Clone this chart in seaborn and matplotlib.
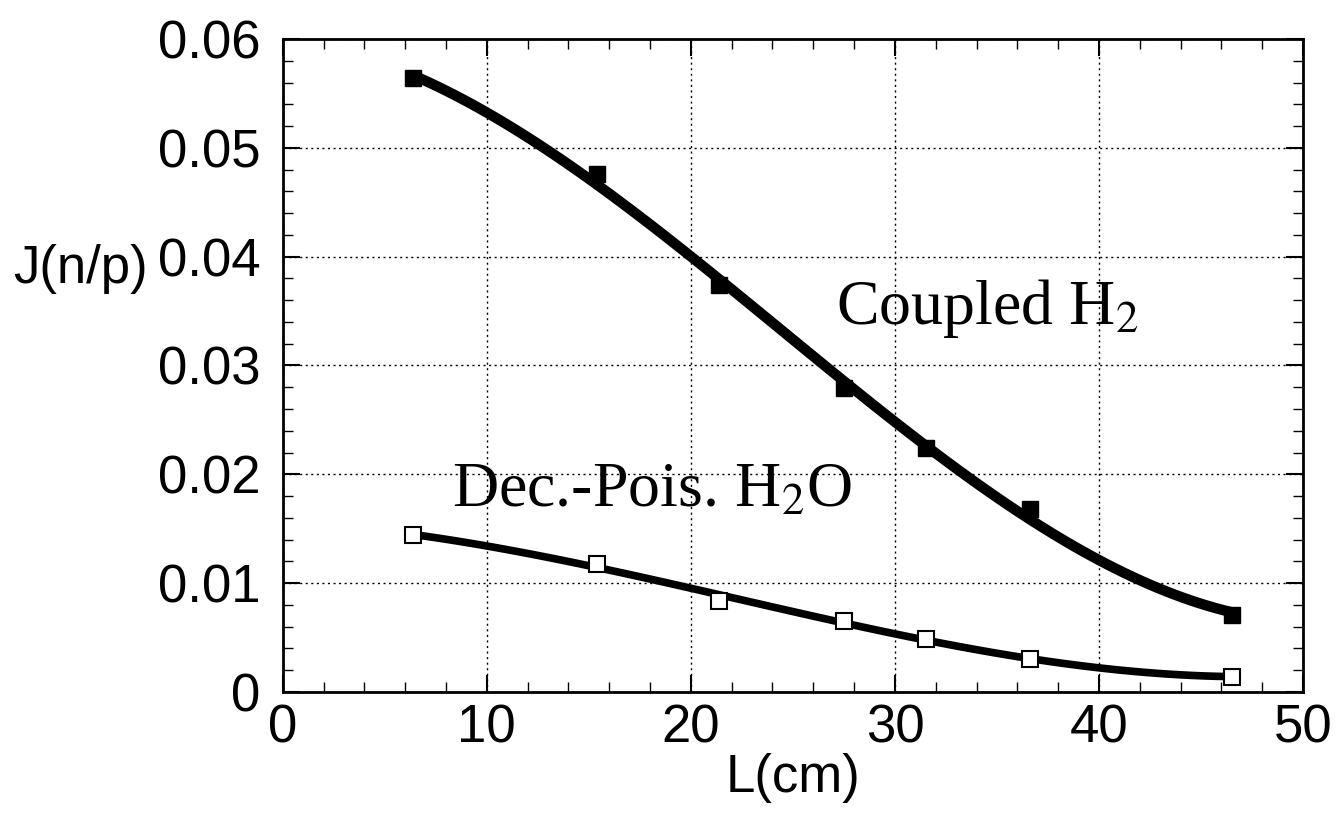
import numpy as np
import pandas as pd
import matplotlib
matplotlib.use('Agg')
import matplotlib.pyplot as plt
import seaborn as sns
from matplotlib.ticker import MultipleLocator

# values
L_cm = [6.4, 15.4, 21.4, 27.5, 31.5, 36.6, 46.5]
coupled_h2 = [0.0564, 0.0476, 0.0374, 0.0279, 0.0224, 0.0168, 0.0071]
dec_pois_h2o = [0.0144, 0.0118, 0.0084, 0.0065, 0.0049, 0.0030, 0.0014]

df = pd.DataFrame({'L': L_cm, 'H2': coupled_h2, 'H2O': dec_pois_h2o})

sns.set_style('ticks')
plt.rcParams['font.family'] = ['Liberation Sans', 'DejaVu Sans']
plt.rcParams['mathtext.fontset'] = 'stix'
plt.rcParams['text.color'] = 'black'
plt.rcParams['axes.labelcolor'] = 'black'
plt.rcParams['xtick.color'] = 'black'
plt.rcParams['ytick.color'] = 'black'

fig = plt.figure(figsize=(13.4, 8.14), dpi=100)
ax = fig.add_axes([0.211, 0.150, 0.7614, 0.802])

# smooth curves (cubic fit) + markers
sns.regplot(data=df, x='L', y='H2', order=3, ci=None, scatter=False, ax=ax,
            line_kws={'color': 'black', 'lw': 7.5, 'solid_capstyle': 'round'})
sns.regplot(data=df, x='L', y='H2O', order=3, ci=None, scatter=False, ax=ax,
            line_kws={'color': 'black', 'lw': 5.5, 'solid_capstyle': 'round'})
ax.plot(df['L'], df['H2'], 's', color='black', ms=12, zorder=5)
ax.plot(df['L'], df['H2O'], 's', mfc='white', mec='black', mew=1.5, ms=12, zorder=5)

ax.set_xlim(0, 50)
ax.set_ylim(0, 0.06)
ax.xaxis.set_minor_locator(MultipleLocator(2))
ax.yaxis.set_minor_locator(MultipleLocator(0.002))
ax.set_yticks(np.arange(0, 0.061, 0.01))
ax.set_yticklabels(['0', '0.01', '0.02', '0.03', '0.04', '0.05', '0.06'])
ax.set_xticks(np.arange(0, 51, 10))
ax.set_xticklabels(['0', '10', '20', '30', '40', '50'])

ax.grid(True, which='major', color='black', linestyle=(0, (1.5, 2.5)), lw=1)
ax.tick_params(which='both', direction='in', top=True, right=True)
ax.tick_params(which='major', length=12, width=1.5, labelsize=38)
ax.tick_params(axis='y', which='major', pad=16)
ax.tick_params(axis='x', which='major', pad=8)
ax.tick_params(which='minor', length=7, width=1)
for s in ax.spines.values():
    s.set_color('black')
    s.set_linewidth(2)

ax.set_xlabel('L(cm)', fontsize=38, labelpad=0)
ax.set_ylabel('J(n/p)', fontsize=38, rotation=0)
ax.yaxis.set_label_coords(-0.198, 0.61)

ax.text(27.1, 0.0338, r'Coupled H$_2$', family='Liberation Serif', fontsize=46)
ax.text(8.3, 0.0170, r'Dec.-Pois. H$_2$O', family='Liberation Serif', fontsize=46)

fig.savefig('out.png', dpi=100, facecolor='white')
